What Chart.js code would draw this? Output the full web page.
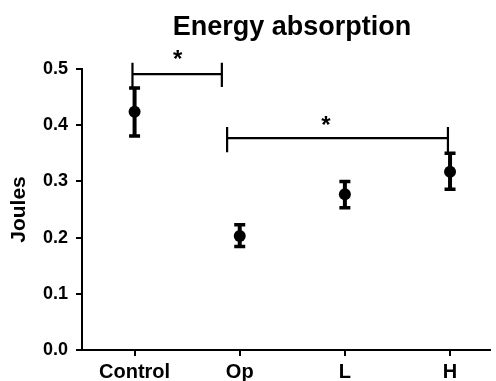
<!DOCTYPE html>
<html>
<head>
<meta charset="utf-8">
<script src="https://cdn.jsdelivr.net/npm/chart.js@4/dist/chart.umd.min.js"></script>
<style>
html,body{margin:0;padding:0;background:#fff;}
#wrap{width:496px;height:381px;}
</style>
</head>
<body>
<div id="wrap"><canvas id="c" width="496" height="381"></canvas></div>
<script>
// ---- data ----
const categories = ["Control", "Op", "L", "H"];
const means      = [0.424, 0.203, 0.277, 0.317];
const errUpper   = [0.466, 0.223, 0.300, 0.350];
const errLower   = [0.381, 0.184, 0.253, 0.286];
const yTicks     = [0.0, 0.1, 0.2, 0.3, 0.4, 0.5];
// significance brackets (x in category units, y in Joules)
const bracketFrom   = [-0.02, 0.83 + 0.05];
const bracketTo     = [0.83, 2.98];
const bracketY      = [0.491, 0.377];
const bracketTop    = [0.511, 0.397];
const bracketBottom = [0.468, 0.352];
const starX = [0.41, 1.82];
const starY = [0.525, 0.406];
const starText = ["*", "*"];
const chartTitle = "Energy absorption";
const yTitle = "Joules";

const FONT = "'Liberation Sans', Arial, sans-serif";

const overlay = {
  id: 'overlay',
  afterDatasetsDraw(chart) {
    const ctx = chart.ctx, xs = chart.scales.x, ys = chart.scales.y;
    ctx.save();
    ctx.strokeStyle = '#000';
    ctx.fillStyle = '#000';
    // error bars
    ctx.lineCap = 'butt';
    for (let i = 0; i < means.length; i++) {
      const px = xs.getPixelForValue(i);
      const pt = ys.getPixelForValue(errUpper[i]);
      const pb = ys.getPixelForValue(errLower[i]);
      ctx.lineWidth = 4;
      ctx.beginPath(); ctx.moveTo(px, pt); ctx.lineTo(px, pb); ctx.stroke();
      ctx.lineWidth = 3.5;
      ctx.beginPath();
      ctx.moveTo(px - 5.5, pt); ctx.lineTo(px + 5.5, pt);
      ctx.moveTo(px - 5.5, pb); ctx.lineTo(px + 5.5, pb);
      ctx.stroke();
    }
    // brackets
    ctx.lineWidth = 2.2;
    for (let i = 0; i < bracketFrom.length; i++) {
      const x1 = xs.getPixelForValue(bracketFrom[i]);
      const x2 = xs.getPixelForValue(bracketTo[i]);
      const y = ys.getPixelForValue(bracketY[i]);
      const yt = ys.getPixelForValue(bracketTop[i]);
      const yb = ys.getPixelForValue(bracketBottom[i]);
      ctx.beginPath();
      ctx.moveTo(x1, yt); ctx.lineTo(x1, yb);
      ctx.moveTo(x2, yt); ctx.lineTo(x2, yb);
      ctx.moveTo(x1, y); ctx.lineTo(x2, y);
      ctx.stroke();
    }
    // stars
    ctx.font = "bold 24px " + FONT;
    ctx.textAlign = 'center';
    ctx.textBaseline = 'middle';
    for (let i = 0; i < starX.length; i++) {
      ctx.fillText(starText[i], xs.getPixelForValue(starX[i]), ys.getPixelForValue(starY[i]) + 5);
    }
    // title
    ctx.font = "bold 27px " + FONT;
    ctx.textBaseline = 'alphabetic';
    ctx.fillText(chartTitle, 292, 35);
    ctx.restore();
  }
};

new Chart(document.getElementById('c'), {
  type: 'scatter',
  data: {
    datasets: [{
      data: means.map((v, i) => ({x: i, y: v})),
      pointRadius: 6,
      pointHoverRadius: 6,
      backgroundColor: '#000',
      borderColor: '#000',
      borderWidth: 0
    }]
  },
  options: {
    responsive: false,
    animation: false,
    events: [],
    clip: false,
    layout: {padding: {top: 69, right: 0, bottom: 0, left: 0}},
    plugins: {legend: {display: false}, title: {display: false}, tooltip: {enabled: false}},
    scales: {
      x: {
        type: 'linear',
        min: -0.5,
        max: 3.38,
        afterBuildTicks: (s) => { s.ticks = categories.map((c, i) => ({value: i})); },
        afterFit: (s) => { s.height = 31; },
        ticks: {
          callback: (v) => categories[v],
          color: '#000',
          font: {family: FONT, size: 20, weight: 'bold'},
          padding: 4,
          maxRotation: 0
        },
        grid: {display: true, drawOnChartArea: false, drawTicks: true, tickLength: 6, color: '#000', lineWidth: 2},
        border: {color: '#000', width: 2}
      },
      y: {
        min: 0,
        max: 0.5,
        afterBuildTicks: (s) => { s.ticks = yTicks.map(v => ({value: v})); },
        afterFit: (s) => { s.width = 82; },
        ticks: {
          callback: (v) => v.toFixed(1),
          color: '#000',
          font: {family: FONT, size: 18, weight: 'bold'},
          padding: 8
        },
        title: {
          display: true,
          text: yTitle,
          color: '#000',
          font: {family: FONT, size: 21, weight: 'bold'},
          padding: {top: 7, bottom: 0}
        },
        grid: {display: true, drawOnChartArea: false, drawTicks: true, tickLength: 6, color: '#000', lineWidth: 2},
        border: {color: '#000', width: 2}
      }
    }
  },
  plugins: [overlay]
});
</script>
</body>
</html>
